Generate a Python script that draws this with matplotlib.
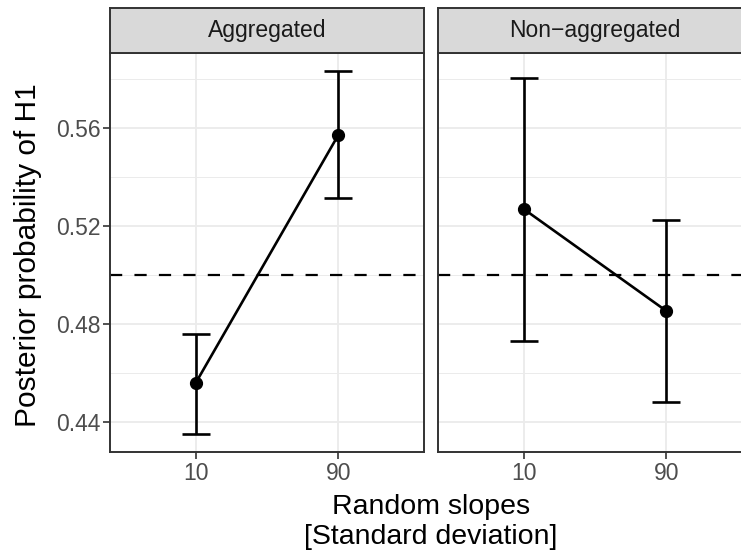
import matplotlib.pyplot as plt
import numpy as np

plt.rcParams['font.family'] = ['Liberation Sans', 'DejaVu Sans']

# posterior probability of H1
panels = ['Aggregated', 'Non\u2212aggregated']
slopes = ['10', '90']
means = [[0.4559, 0.5571], [0.5269, 0.4853]]
lower = [[0.4352, 0.5313], [0.4732, 0.4482]]
upper = [[0.4761, 0.5831], [0.5805, 0.5226]]

W, H = 741, 554
fig = plt.figure(figsize=(W / 100, H / 100), dpi=100)

lo = min(min(r) for r in lower)
hi = max(max(r) for r in upper)
pad = 0.05 * (hi - lo)
ylim = (lo - pad, hi + pad)

panel_x = [110, 438]
panel_w = 314
top, strip_bot, bot = 8, 53, 452
dark = '#333333'

for i, name in enumerate(panels):
    x0 = panel_x[i]
    ax = fig.add_axes([x0 / W, 1 - bot / H, panel_w / W, (bot - strip_bot) / H])
    xs = np.arange(1, len(slopes) + 1)
    ax.set_xlim(0.4, 2.6)
    ax.set_ylim(*ylim)

    ax.set_yticks([0.44, 0.48, 0.52, 0.56])
    ax.set_yticks([0.46, 0.50, 0.54, 0.58], minor=True)
    ax.set_xticks(xs)
    ax.set_xticklabels(slopes)
    ax.grid(True, which='major', color='#ebebeb', lw=1.3, zorder=0)
    ax.grid(True, which='minor', axis='y', color='#ebebeb', lw=0.7, zorder=0)
    ax.tick_params(which='minor', length=0)
    ax.tick_params(which='major', length=5, width=1.2, color=dark,
                   labelsize=16.5, labelcolor='#4d4d4d', pad=2)
    if i == 0:
        ax.set_yticklabels(['0.44', '0.48', '0.52', '0.56'])
    else:
        ax.tick_params(axis='y', left=False, labelleft=False)
    for s in ax.spines.values():
        s.set_color(dark)
        s.set_linewidth(1.4)

    ax.axhline(0.5, color='black', ls=(0, (5.5, 5.5)), lw=1.6, zorder=2)
    m = np.array(means[i])
    yerr = [m - np.array(lower[i]), np.array(upper[i]) - m]
    ax.errorbar(xs, m, yerr=yerr, fmt='none', ecolor='black', elinewidth=1.9,
                capsize=10, capthick=1.9, zorder=3)
    ax.plot(xs, m, color='black', lw=1.9, zorder=4)
    ax.plot(xs, m, 'o', color='black', ms=8.5, zorder=5)

    sax = fig.add_axes([x0 / W, 1 - strip_bot / H, panel_w / W, (strip_bot - top) / H])
    sax.set_facecolor('#d9d9d9')
    sax.set_xticks([])
    sax.set_yticks([])
    for s in sax.spines.values():
        s.set_color(dark)
        s.set_linewidth(1.4)
    sax.text(0.5, 0.5, name, ha='center', va='center', fontsize=16.5,
             color='#1a1a1a', transform=sax.transAxes)

fig.text(28 / W, 1 - 255 / H, 'Posterior probability of H1', rotation=90,
         ha='center', va='center', fontsize=21.5)
fig.text(431 / W, 1 - 507 / H, 'Random slopes', ha='center', va='center', fontsize=20.5)
fig.text(431 / W, 1 - 537 / H, '[Standard deviation]', ha='center', va='center', fontsize=20.5)

plt.savefig('out.png', dpi=100)
